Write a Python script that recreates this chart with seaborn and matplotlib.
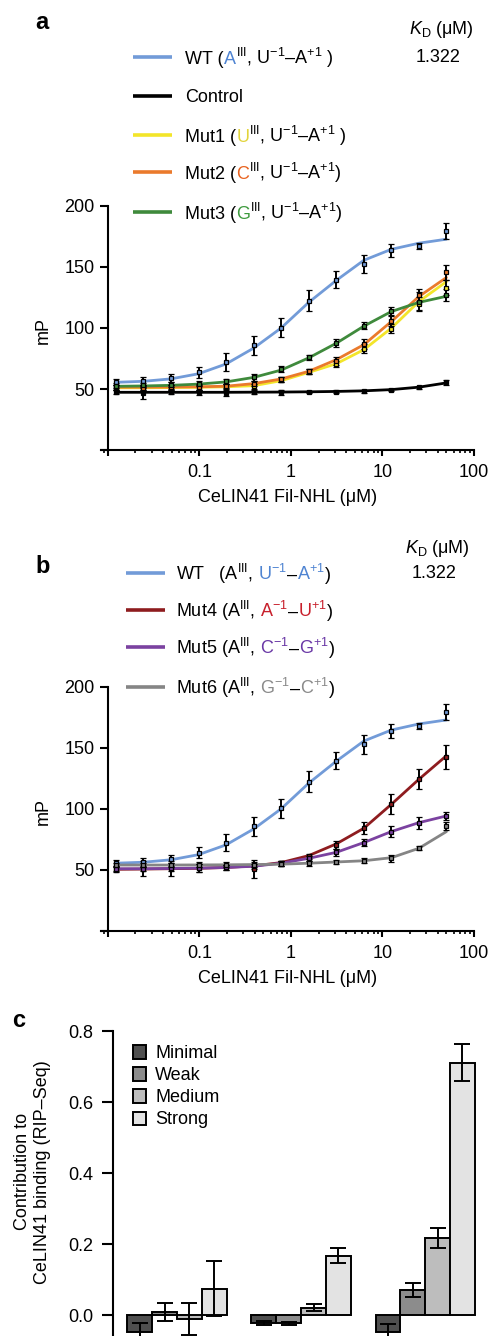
import numpy as np
import pandas as pd
import seaborn as sns
import matplotlib
matplotlib.use('Agg')
import matplotlib.pyplot as plt
from matplotlib.lines import Line2D
from matplotlib.offsetbox import TextArea, HPacker, AnchoredOffsetbox
from matplotlib.ticker import LogLocator, NullFormatter

# protein concentrations (uM), 2-fold dilution series
conc = [0.0122, 0.0244, 0.0488, 0.0977, 0.195, 0.391, 0.781, 1.5625, 3.125, 6.25, 12.5, 25, 50]

# fitted curves (mP)
wt_fit = [55.5, 56.3, 58.3, 62.5, 70.5, 83.5, 100, 121, 139, 155.5, 164.5, 169.5, 172.8]
ctrl_fit = [47.3, 47.3, 47.3, 47.3, 47.3, 47.4, 47.5, 47.7, 48.0, 48.5, 49.5, 51.5, 55.0]
mut1_fit = [51.0, 51.0, 51.2, 51.4, 51.8, 52.7, 56.8, 63.6, 70.7, 82.2, 99.9, 121.7, 138.0]
mut2_fit = [51.5, 51.5, 51.6, 51.8, 52.3, 54.4, 58.2, 64.5, 74.0, 86.3, 105.3, 125.8, 141.4]
mut3_fit = [52.2, 52.5, 53.0, 54.0, 55.8, 59.5, 65.5, 75.5, 87.5, 101.5, 113.5, 121.0, 126.0]
mut4_fit = [50.5, 50.7, 51.0, 51.3, 52.0, 53.3, 56.0, 61.7, 71.3, 84.1, 103.7, 124.2, 143.5]
mut5_fit = [51.0, 51.0, 51.2, 51.5, 52.0, 53.0, 55.5, 59.5, 64.4, 72.4, 81.4, 88.7, 94.2]
mut6_fit = [54.0, 54.0, 54.0, 54.1, 54.2, 54.4, 54.7, 55.5, 56.5, 57.5, 60.0, 67.7, 81.4]

# measured means and errors
wt_mean = [55.4, 56.3, 59.0, 63.9, 72.1, 85.7, 100.4, 122.3, 139.4, 152.7, 163.7, 167.5, 179.4]
wt_err = [2.5, 3.5, 3, 4.5, 7, 8, 7.5, 8.5, 7, 7.5, 5.5, 2.5, 6.5]
ctrl_mean = [47.5, 47.0, 47.5, 47.3, 47.0, 47.5, 47.3, 47.5, 47.8, 48.0, 49.3, 51.3, 55.5]
ctrl_err = [2, 5, 2, 2, 2.5, 1.5, 2, 1, 1, 1.5, 1, 1, 2]
mut1_mean = [51.0, 51.5, 51.0, 51.4, 52.0, 52.2, 57.6, 64.0, 70.7, 83.0, 99.5, 120.0, 133.0]
mut1_err = [2, 2, 2, 2, 2, 2, 2, 2, 2.5, 3.5, 3.5, 5, 6]
mut2_mean = [51.5, 51.0, 51.6, 52.0, 52.5, 54.4, 58.0, 64.5, 73.0, 87.0, 106.0, 127.0, 145.5]
mut2_err = [2, 2, 2, 2.5, 2, 2, 2, 2, 3, 4, 4, 5, 6]
mut3_mean = [52.7, 53.0, 53.5, 54.4, 56.3, 59.5, 66.4, 75.9, 87.6, 101.8, 114.0, 121.7, 127.0]
mut3_err = [2, 2, 2, 2, 2, 3, 2.5, 2, 3, 3, 3, 7.5, 5]
mut4_mean = [50.0, 51.0, 51.0, 51.5, 52.0, 50.8, 55.5, 61.0, 70.5, 84.5, 104.0, 124.5, 142.5]
mut4_err = [2, 6, 6, 3, 2, 7.5, 2, 2, 3, 5, 8, 8.5, 10]
mut5_mean = [51.0, 51.0, 51.2, 51.5, 52.0, 53.0, 55.5, 59.5, 64.4, 72.4, 81.4, 88.7, 94.2]
mut5_err = [2, 2, 2, 3, 2, 2, 2, 2, 3, 3, 4.5, 5, 3]
mut6_mean = [54.0, 54.0, 54.0, 54.1, 54.2, 54.4, 55.0, 55.5, 56.5, 57.5, 59.5, 68.0, 86.0]
mut6_err = [2, 2, 2, 2, 2, 2, 2, 2, 1.5, 2, 3, 1.5, 3]

# panel c
motif_sets = ['Set 1', 'Set 2', 'Set 3']
strength = ['Minimal', 'Weak', 'Medium', 'Strong']
contrib_minimal = [-0.047, -0.023, -0.049]
contrib_weak = [0.009, -0.023, 0.070]
contrib_medium = [-0.010, 0.021, 0.218]
contrib_strong = [0.074, 0.167, 0.711]
err_minimal = [0.025, 0.005, 0.023]
err_weak = [0.026, 0.004, 0.019]
err_medium = [0.045, 0.011, 0.028]
err_strong = [0.078, 0.021, 0.052]

colors = {'WT': '#729bd8', 'Control': '#000000', 'Mut1': '#f3e52a', 'Mut2': '#ea7a2c',
          'Mut3': '#3f8a3c', 'Mut4': '#8e1c1f', 'Mut5': '#7b42a0', 'Mut6': '#858585'}
bar_colors = ['#4f4f4f', '#8c8c8c', '#bdbdbd', '#e3e3e3']

sns.set_style('ticks')
plt.rcParams['font.family'] = ['Liberation Sans', 'DejaVu Sans']
plt.rcParams['mathtext.fontset'] = 'custom'
plt.rcParams['mathtext.rm'] = 'Liberation Sans'
plt.rcParams['mathtext.it'] = 'Liberation Sans:italic'
plt.rcParams['mathtext.bf'] = 'Liberation Sans:bold'
for key in ['text.color', 'axes.labelcolor', 'xtick.color', 'ytick.color', 'axes.edgecolor']:
    plt.rcParams[key] = 'black'

W, H = 491, 1336
FS = 13
fig = plt.figure(figsize=(W / 100, H / 100), dpi=100)


def fx(px):
    return px / W


def fy(py):
    return 1 - py / H


def rich_row(x_line, x_text, y, color, parts):
    fig.add_artist(Line2D([fx(x_line), fx(x_line + 39)], [fy(y), fy(y)],
                          transform=fig.transFigure, color=color, lw=2.6, solid_capstyle='butt'))
    boxes = [TextArea(t, textprops=dict(color=c, fontsize=FS)) for t, c in parts]
    pack = HPacker(children=boxes, align='baseline', pad=0, sep=0)
    ab = AnchoredOffsetbox(loc='center left', child=pack, bbox_to_anchor=(fx(x_text), fy(y + 1)),
                           bbox_transform=fig.transFigure, frameon=False, pad=0, borderpad=0)
    fig.add_artist(ab)


def binding_panel(rect, series):
    ax = fig.add_axes(rect)
    rows = []
    for name, fit, mean, err in series:
        for c, v in zip(conc, fit):
            rows.append({'conc': c, 'mP': v, 'construct': name})
    df = pd.DataFrame(rows)
    sns.lineplot(data=df, x='conc', y='mP', hue='construct', palette=colors,
                 linewidth=2.0, errorbar=None, legend=False, ax=ax)
    for name, fit, mean, err in series:
        ax.errorbar(conc, mean, yerr=err, fmt='s', ms=3.2, mfc=colors[name], mec='black',
                    mew=0.9, ecolor='black', elinewidth=1.4, capsize=2.2, capthick=1.4, zorder=3)
    ax.set_xscale('log')
    ax.set_xlim(0.0084, 100)
    ax.set_ylim(0, 200)
    ax.spines['left'].set_position(('data', 0.01))
    ax.spines['top'].set_visible(False)
    ax.spines['right'].set_visible(False)
    for s in ['left', 'bottom']:
        ax.spines[s].set_linewidth(1.5)
    ax.set_yticks([0, 50, 100, 150, 200])
    ax.set_yticklabels(['', '50', '100', '150', '200'])
    ax.set_xticks([0.01, 0.1, 1, 10, 100])
    ax.set_xticklabels(['', '0.1', '1', '10', '100'])
    ax.xaxis.set_minor_locator(LogLocator(base=10, subs=np.arange(2, 10), numticks=20))
    ax.xaxis.set_minor_formatter(NullFormatter())
    ax.tick_params(axis='y', length=5.5, width=1.5, labelsize=FS, pad=4)
    ax.tick_params(axis='x', which='major', length=4, width=1.5, labelsize=FS, pad=6)
    ax.tick_params(axis='x', which='minor', length=2.5, width=1.2)
    ax.set_ylabel('mP', fontsize=FS)
    ax.yaxis.set_label_coords(-0.133, 0.49)
    ax.set_xlabel('CeLIN41 Fil-NHL (\u03bcM)', fontsize=FS)
    ax.xaxis.set_label_coords(0.5, -0.16)
    return ax


k = 'black'
# ---------------- panel a ----------------
ax_a = binding_panel([fx(101), fy(450), fx(474) - fx(101), (450 - 206) / H], [
    ('WT', wt_fit, wt_mean, wt_err),
    ('Control', ctrl_fit, ctrl_mean, ctrl_err),
    ('Mut1', mut1_fit, mut1_mean, mut1_err),
    ('Mut2', mut2_fit, mut2_mean, mut2_err),
    ('Mut3', mut3_fit, mut3_mean, mut3_err),
])
fig.text(fx(35), fy(29), 'a', fontsize=17, weight='bold', va='baseline')
fig.text(fx(441), fy(30), '$K_{\\mathrm{D}}$ (\u03bcM)', fontsize=FS, ha='center', va='center')
fig.text(fx(438), fy(57), '1.322', fontsize=FS, ha='center', va='center')
sup = '$^{\\mathrm{III}}$'
site = ', U$^{-1}$\u2013A$^{+1}$'
rich_row(133, 185, 57, colors['WT'], [('WT (', k), ('A', '#4f84d2'), (sup + site + ' )', k)])
rich_row(133, 185, 96, colors['Control'], [('Control', k)])
rich_row(133, 185, 135, colors['Mut1'], [('Mut1 (', k), ('U', '#e2d43c'), (sup + site + ' )', k)])
rich_row(133, 185, 172, colors['Mut2'], [('Mut2 (', k), ('C', '#e8621e'), (sup + site + ')', k)])
rich_row(133, 185, 212, colors['Mut3'], [('Mut3 (', k), ('G', '#3e9a3e'), (sup + site + ')', k)])

# ---------------- panel b ----------------
ax_b = binding_panel([fx(101), fy(931), fx(474) - fx(101), (931 - 686.7) / H], [
    ('WT', wt_fit, wt_mean, wt_err),
    ('Mut4', mut4_fit, mut4_mean, mut4_err),
    ('Mut5', mut5_fit, mut5_mean, mut5_err),
    ('Mut6', mut6_fit, mut6_mean, mut6_err),
])
fig.text(fx(35), fy(573), 'b', fontsize=17, weight='bold', va='baseline')
fig.text(fx(437), fy(548), '$K_{\\mathrm{D}}$ (\u03bcM)', fontsize=FS, ha='center', va='center')
fig.text(fx(434), fy(573), '1.322', fontsize=FS, ha='center', va='center')


def pair_parts(label, c1, c2, color, gap=' '):
    return [(label + gap + '(A' + sup + ',', k), ('\u00a0' + c1 + '$^{-1}$', color), ('\u2013', k),
            (c2 + '$^{+1}$', color), (')', k)]


rich_row(126, 176, 573, colors['WT'], pair_parts('WT', 'U', 'A', '#4f84d2', gap='   '))
rich_row(126, 176, 610, colors['Mut4'], pair_parts('Mut4', 'A', 'U', '#c8202c'))
rich_row(126, 176, 647, colors['Mut5'], pair_parts('Mut5', 'C', 'G', '#6a38a6'))
rich_row(126, 176, 687, colors['Mut6'], pair_parts('Mut6', 'G', 'C', '#8a8a8a'))

# ---------------- panel c ----------------
top_c, zero_c = 1031, 1315
px_per = (zero_c - top_c) / 0.8
bottom_c = zero_c + 0.1 * px_per
ax_c = fig.add_axes([fx(113), fy(bottom_c), fx(478) - fx(113), (bottom_c - top_c) / H])
values = [contrib_minimal, contrib_weak, contrib_medium, contrib_strong]
errors = [err_minimal, err_weak, err_medium, err_strong]
rows = []
for lvl, vals in zip(strength, values):
    for g, v in zip(motif_sets, vals):
        rows.append({'set': g, 'strength': lvl, 'contribution': v})
dfc = pd.DataFrame(rows)
sns.barplot(data=dfc, x='set', y='contribution', hue='strength', hue_order=strength,
            palette=bar_colors, saturation=1, errorbar=None, edgecolor='black',
            linewidth=1.4, ax=ax_c)
for cont, vals, errs in zip(ax_c.containers, values, errors):
    xs = [p.get_x() + p.get_width() / 2 for p in cont.patches]
    ax_c.errorbar(xs, vals, yerr=errs, fmt='none', ecolor='black', elinewidth=1.4,
                  capsize=6, capthick=1.4, zorder=4)
ax_c.set_xlim(-0.515, 2.425)
ax_c.set_ylim(-0.1, 0.8)
ax_c.set_yticks([0.0, 0.2, 0.4, 0.6, 0.8])
ax_c.set_yticklabels(['0.0', '0.2', '0.4', '0.6', '0.8'])
ax_c.spines['left'].set_bounds(-0.1, 0.8)
ax_c.spines['left'].set_linewidth(1.5)
for s in ['top', 'right', 'bottom']:
    ax_c.spines[s].set_visible(False)
ax_c.tick_params(axis='y', length=8, width=1.5, labelsize=FS, pad=6)
ax_c.tick_params(axis='x', length=0, labelbottom=False)
ax_c.set_xlabel('')
ax_c.set_ylabel('Contribution to\nCeLIN41 binding (RIP\u2013Seq)', fontsize=FS, linespacing=1.25)
ax_c.yaxis.set_label_coords(-0.170, 0.559)
sns.move_legend(ax_c, 'upper left', bbox_to_anchor=(0.034, 0.978), title=None, frameon=False,
                fontsize=FS, handlelength=0.75, handleheight=0.75, labelspacing=0.28,
                handletextpad=0.5, borderaxespad=0)
fig.text(fx(12), fy(1027), 'c', fontsize=17, weight='bold', va='baseline')

fig.savefig('out.png', dpi=100)
